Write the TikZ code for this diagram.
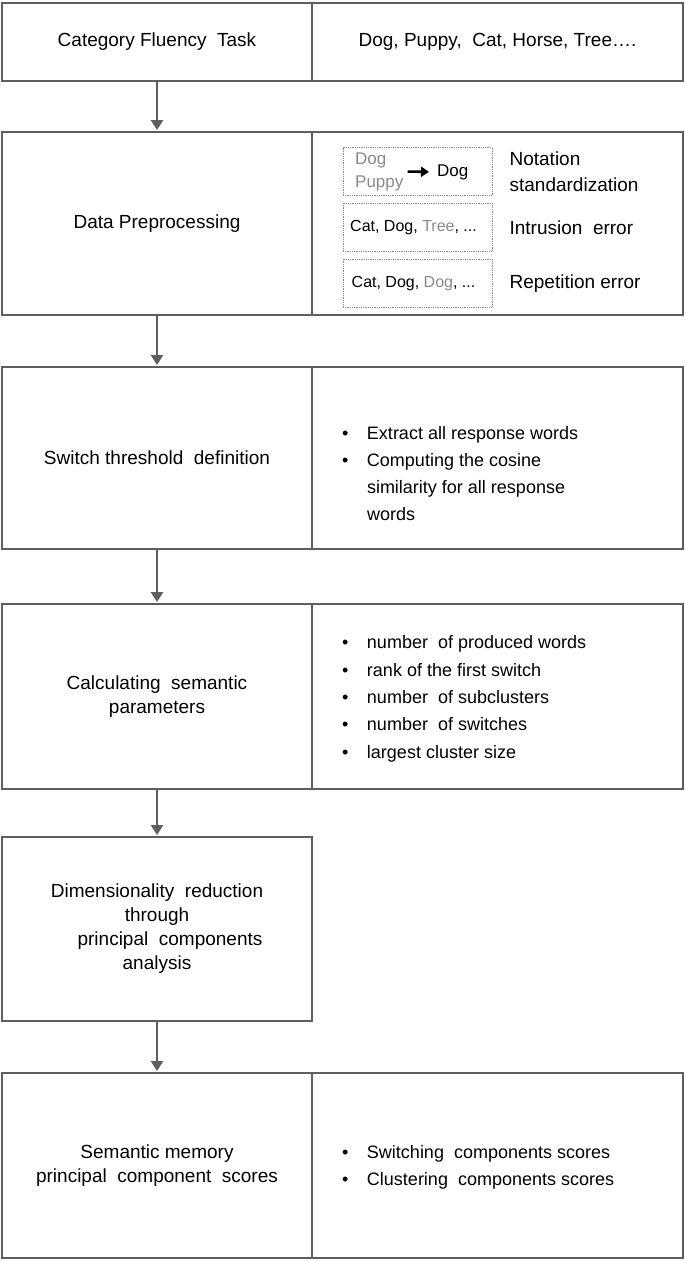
\documentclass[tikz,border=0pt]{standalone}
\usepackage{fontspec}
\setmainfont{Liberation Sans}
\usetikzlibrary{arrows.meta,positioning}
\definecolor{framegray}{HTML}{5E5E5E}
\definecolor{softgray}{HTML}{8A8A8A}

\begin{document}
\begin{tikzpicture}[x=1pt,y=-1pt,
    stage/.style={draw=framegray,line width=2.4pt,inner sep=0pt,outer sep=0pt,minimum width=310pt,align=center,font=\fontsize{19}{24}\selectfont},
    detail/.style={draw=framegray,line width=2.4pt,inner sep=0pt,outer sep=0pt,minimum width=371pt,align=center,font=\fontsize{19}{24}\selectfont},
    flow/.style={draw=framegray,line width=2.4pt,shorten >=2pt,-{Triangle[length=10pt,width=12pt]}},
    listtext/.style={inner sep=0pt,align=left,font=\fontsize{18}{27.3}\selectfont},
    errbox/.style={draw=softgray,densely dotted,line width=0.8pt,minimum width=149pt,minimum height=48pt,inner sep=0pt,font=\fontsize{16}{19}\selectfont},
    errlabel/.style={inner sep=0pt,align=left,font=\fontsize{19}{26}\selectfont}]

    \useasboundingbox (0,0) rectangle (685,1261);

    \node[stage,minimum height=78pt] (task) at (157,42) {Category Fluency~ Task};
    \node[detail,minimum height=78pt,right=0pt of task] (taskR) {Dog, Puppy,~ Cat, Horse, Tree….};

    \node[stage,minimum height=183pt,below=51pt of task] (prep) {Data Preprocessing};
    \node[detail,minimum height=183pt,right=0pt of prep] (prepR) {};

    \node[stage,minimum height=182pt,below=52pt of prep] (thresh) {Switch threshold~ definition};
    \node[detail,minimum height=182pt,right=0pt of thresh] (threshR) {};

    \node[stage,minimum height=185pt,below=55pt of thresh] (params) {Calculating~ semantic\\parameters};
    \node[detail,minimum height=185pt,right=0pt of params] (paramsR) {};

    \node[stage,minimum height=184pt,below=48pt of params] (pca) {Dimensionality~ reduction\\through\\\hspace*{26pt}principal~ components\\analysis};

    \node[stage,minimum height=185pt,below=52pt of pca] (scores) {Semantic memory\\principal~ component~ scores};
    \node[detail,minimum height=185pt,right=0pt of scores] (scoresR) {};

    \draw[flow] (task) -- (prep);
    \draw[flow] (prep) -- (thresh);
    \draw[flow] (thresh) -- (params);
    \draw[flow] (params) -- (pca);
    \draw[flow] (pca) -- (scores);

    % preprocessing examples
    \node[errbox] (notebox) at (417.5,171.5) {};
    \node[errbox,below=7pt of notebox] (intrbox) {\hspace*{-8pt}Cat, Dog, \textcolor{softgray}{Tree}, ...};
    \node[errbox,below=7pt of intrbox] (repbox) {\hspace*{-8pt}Cat, Dog, \textcolor{softgray}{Dog}, ...};
    \node[inner sep=0pt,anchor=west,align=left,text=softgray,font=\fontsize{17}{23}\selectfont] (synonyms) at (355,171.5) {Dog\\Puppy};
    \node[inner sep=0pt,anchor=west,font=\fontsize{17}{20}\selectfont] (canon) at (437,172) {Dog};
    \draw[line width=2.6pt,shorten <=4pt,shorten >=8pt,-{Triangle[length=8pt,width=10pt]}] (synonyms.east) -- (canon.west);
    \node[errlabel,right=17pt of notebox] (notelabel) {Notation\\standardization};
    \node[errlabel,right=17pt of intrbox] (intrlabel) {Intrusion~ error};
    \node[errlabel,right=17pt of repbox] (replabel) {Repetition error};

    % bullet lists
    \node[listtext,right=30pt of threshR.west,yshift=-16.5pt] (threshlist) {\begin{tabular}{@{}l@{\hspace{18.5pt}}l@{}}
        \textbullet & Extract all response words\\
        \textbullet & Computing the cosine\\
        & similarity for all response\\
        & words
      \end{tabular}};
    \node[listtext,right=30pt of paramsR.west,yshift=-1.5pt] (paramlist) {\begin{tabular}{@{}l@{\hspace{18.5pt}}l@{}}
        \textbullet & number~ of produced words\\
        \textbullet & rank of the first switch\\
        \textbullet & number~ of subclusters\\
        \textbullet & number~ of switches\\
        \textbullet & largest cluster size
      \end{tabular}};
    \node[listtext,right=30pt of scoresR.west,yshift=-1pt] (scorelist) {\begin{tabular}{@{}l@{\hspace{18.5pt}}l@{}}
        \textbullet & Switching~ components scores\\
        \textbullet & Clustering~ components scores
      \end{tabular}};
  \end{tikzpicture}
\end{document}
